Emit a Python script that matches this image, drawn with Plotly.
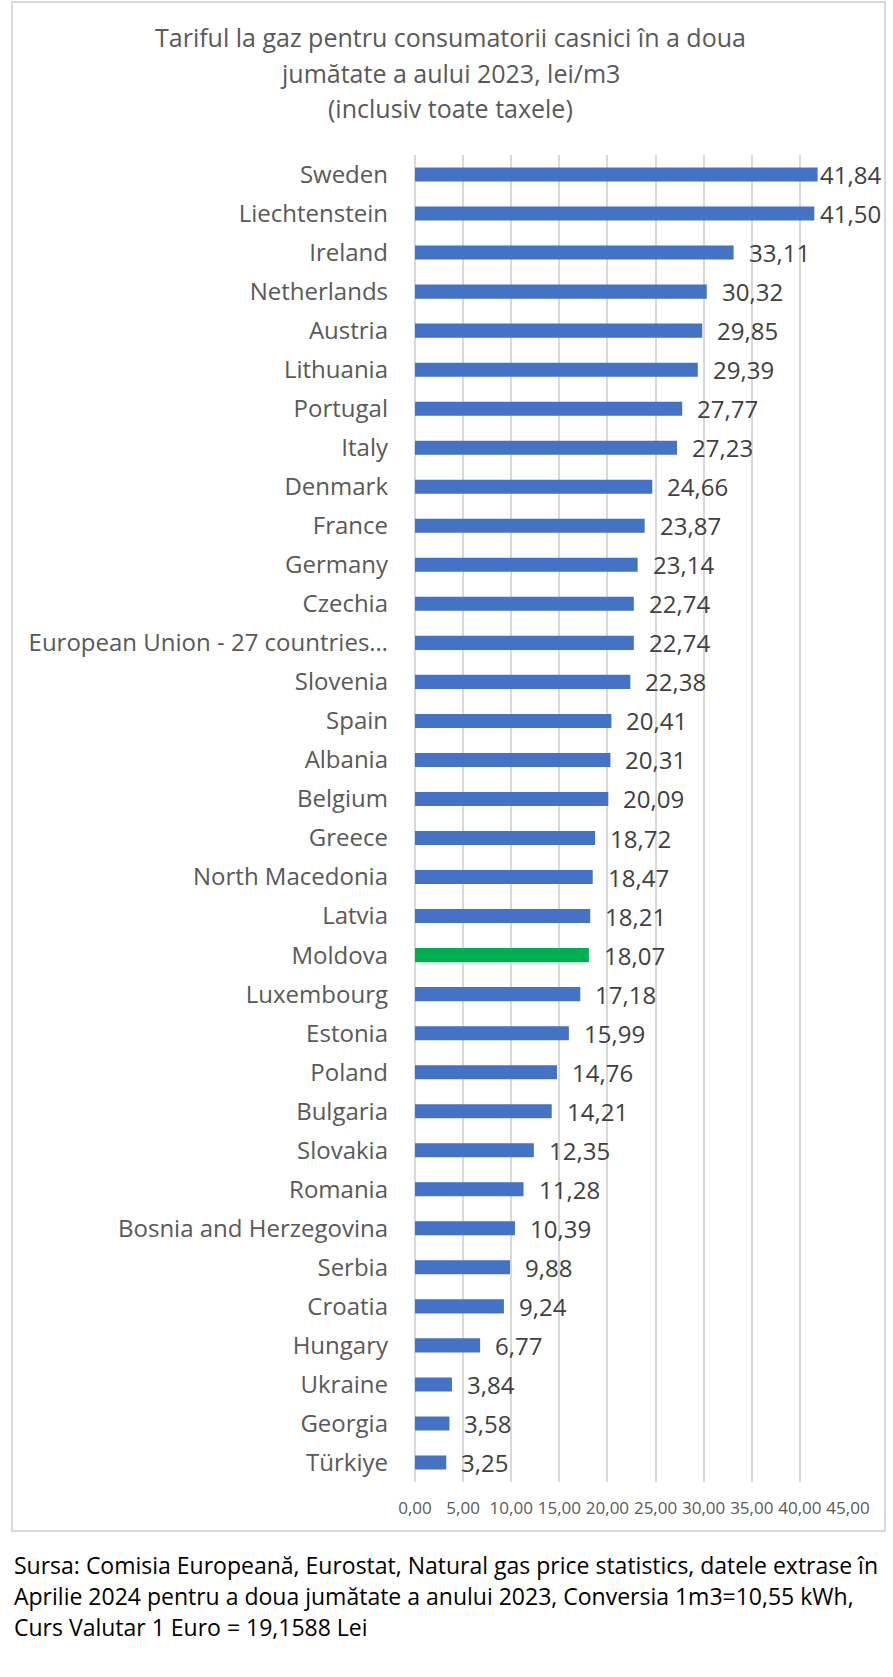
import plotly.graph_objects as go

# data
countries = ['Sweden', 'Liechtenstein', 'Ireland', 'Netherlands', 'Austria', 'Lithuania',
             'Portugal', 'Italy', 'Denmark', 'France', 'Germany', 'Czechia',
             'European Union - 27 countries…', 'Slovenia', 'Spain', 'Albania', 'Belgium',
             'Greece', 'North Macedonia', 'Latvia', 'Moldova', 'Luxembourg', 'Estonia',
             'Poland', 'Bulgaria', 'Slovakia', 'Romania', 'Bosnia and Herzegovina',
             'Serbia', 'Croatia', 'Hungary', 'Ukraine', 'Georgia', 'Türkiye']
prices = [41.84, 41.50, 33.11, 30.32, 29.85, 29.39, 27.77, 27.23, 24.66, 23.87, 23.14, 22.74,
          22.74, 22.38, 20.41, 20.31, 20.09, 18.72, 18.47, 18.21, 18.07, 17.18, 15.99,
          14.76, 14.21, 12.35, 11.28, 10.39, 9.88, 9.24, 6.77, 3.84, 3.58, 3.25]
highlight = 'Moldova'

title_lines = ['Tariful la gaz pentru consumatorii casnici în a doua',
               'jumătate a aului 2023, lei/m3',
               '(inclusiv toate taxele)']
note_lines = ['Sursa: Comisia Europeană, Eurostat, Natural gas price statistics, datele extrase în',
              'Aprilie 2024 pentru a doua jumătate a anului 2023, Conversia 1m3=10,55 kWh,',
              'Curs Valutar 1 Euro = 19,1588 Lei']

W, H = 893, 1677
L, R, T, B = 415, 848, 155, 1482
FONT = 'Open Sans'


def px_x(p):
    return (p - L) / (R - L)


def px_y(p):
    return (B - p) / (B - T)


colors = ['#00B050' if c == highlight else '#4472C4' for c in countries]

fig = go.Figure(go.Bar(
    x=prices, y=countries, orientation='h',
    marker=dict(color=colors, line=dict(width=0)),
    hoverinfo='skip'
))

annotations = []
# value labels, pushed left when they would leave the chart box
for c, v in zip(countries, prices):
    bar_end = L + v / 45 * (R - L)
    shift = min(13, 884 - bar_end - 66)
    annotations.append(dict(
        x=v, y=c, xref='x', yref='y', text=f'{v:.2f}'.replace('.', ','),
        showarrow=False, xanchor='left', yanchor='middle', xshift=shift,
        font=dict(family=FONT, size=24, color='#404040')
    ))

for line, py in zip(title_lines, [37, 73, 108]):
    annotations.append(dict(
        x=px_x(450), y=px_y(py), xref='paper', yref='paper', text=line,
        showarrow=False, xanchor='center', yanchor='middle',
        font=dict(family=FONT, size=25, color='#595959')
    ))

for line, py in zip(note_lines, [1565, 1596, 1627]):
    annotations.append(dict(
        x=px_x(12), y=px_y(py), xref='paper', yref='paper', text=line,
        showarrow=False, xanchor='left', yanchor='middle',
        font=dict(family=FONT, size=23, color='#000000')
    ))

fig.update_layout(
    width=W, height=H,
    margin=dict(l=L, r=W - R, t=T, b=H - B),
    paper_bgcolor='white', plot_bgcolor='white',
    bargap=0.64, showlegend=False,
    separators=', ',
    annotations=annotations,
    shapes=[dict(type='rect', xref='paper', yref='paper',
                 x0=px_x(12), x1=px_x(885), y0=px_y(1531), y1=px_y(2),
                 line=dict(color='#d9d9d9', width=2), layer='below')],
    xaxis=dict(range=[0, 45], dtick=5, tickformat='.2f',
               showgrid=True, gridcolor='#d9d9d9', gridwidth=2,
               zeroline=True, zerolinecolor='#d9d9d9', zerolinewidth=2,
               showline=False, ticks='', ticklabelstandoff=14,
               tickfont=dict(family=FONT, size=17, color='#595959')),
    yaxis=dict(autorange='reversed', showgrid=False, zeroline=False, showline=False,
               ticks='', ticklabelstandoff=26,
               tickfont=dict(family=FONT, size=24, color='#595959')),
)

fig.write_html('out.html', config={'displayModeBar': False},
               post_script="document.body.style.margin = '0';")
